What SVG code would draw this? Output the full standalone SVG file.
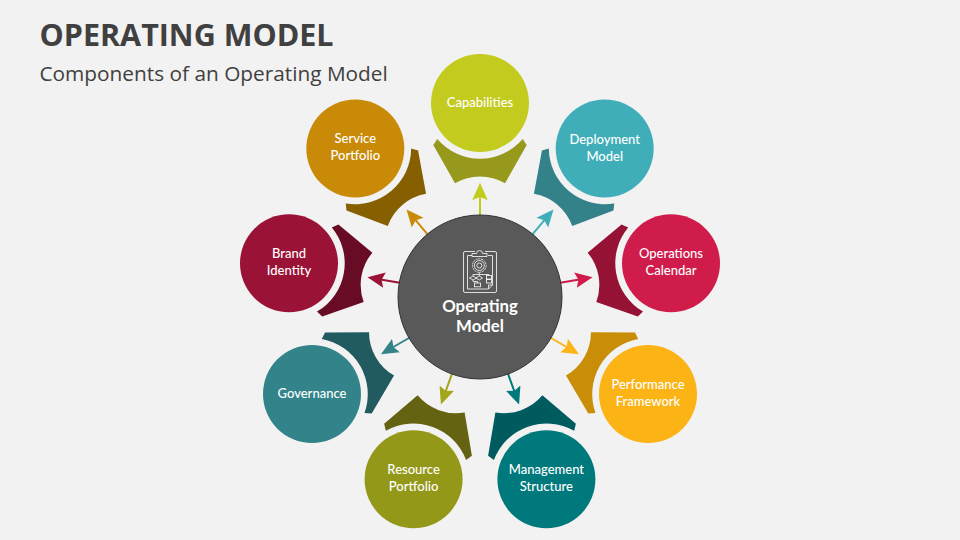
<svg xmlns="http://www.w3.org/2000/svg" width="960" height="540" viewBox="0 0 960 540">
<style>
.title{font-family:"Open Sans","Liberation Sans",sans-serif;font-weight:700;font-size:31px;fill:#404040}
.sub{font-family:"Open Sans","Liberation Sans",sans-serif;font-size:20.8px;fill:#404040}
.lbl{font-family:Lato,"Liberation Sans",sans-serif;font-size:13px;font-weight:500;fill:#fff;text-anchor:middle}
.ctr{font-family:Lato,"Liberation Sans",sans-serif;font-size:16.8px;font-weight:700;fill:#fff;text-anchor:middle}
.ar{stroke-width:2;fill:none}
.ic{fill:none;stroke:#fff;stroke-width:.8}
</style>
<defs>
<path id="seg" d="M433.3 145L437.3 139A56 56 0 0 0 522.7 139L526.7 145L505 183.3A50 50 0 0 0 455 183.3Z"/>
<marker id="m0" markerUnits="userSpaceOnUse" markerWidth="20" markerHeight="18" viewBox="0 -9 20 18" refX="13" refY="0" orient="auto"><path d="M0-7.7L17.3 0L0 7.7L3 0Z" fill="#C4CB1F"/></marker>
<marker id="m1" markerUnits="userSpaceOnUse" markerWidth="20" markerHeight="18" viewBox="0 -9 20 18" refX="13" refY="0" orient="auto"><path d="M0-7.7L17.3 0L0 7.7L3 0Z" fill="#40AEB8"/></marker>
<marker id="m2" markerUnits="userSpaceOnUse" markerWidth="20" markerHeight="18" viewBox="0 -9 20 18" refX="13" refY="0" orient="auto"><path d="M0-7.7L17.3 0L0 7.7L3 0Z" fill="#CF1C4B"/></marker>
<marker id="m3" markerUnits="userSpaceOnUse" markerWidth="20" markerHeight="18" viewBox="0 -9 20 18" refX="13" refY="0" orient="auto"><path d="M0-7.7L17.3 0L0 7.7L3 0Z" fill="#FBB316"/></marker>
<marker id="m4" markerUnits="userSpaceOnUse" markerWidth="20" markerHeight="18" viewBox="0 -9 20 18" refX="13" refY="0" orient="auto"><path d="M0-7.7L17.3 0L0 7.7L3 0Z" fill="#00797C"/></marker>
<marker id="m5" markerUnits="userSpaceOnUse" markerWidth="20" markerHeight="18" viewBox="0 -9 20 18" refX="13" refY="0" orient="auto"><path d="M0-7.7L17.3 0L0 7.7L3 0Z" fill="#A3A51A"/></marker>
<marker id="m6" markerUnits="userSpaceOnUse" markerWidth="20" markerHeight="18" viewBox="0 -9 20 18" refX="13" refY="0" orient="auto"><path d="M0-7.7L17.3 0L0 7.7L3 0Z" fill="#33838A"/></marker>
<marker id="m7" markerUnits="userSpaceOnUse" markerWidth="20" markerHeight="18" viewBox="0 -9 20 18" refX="13" refY="0" orient="auto"><path d="M0-7.7L17.3 0L0 7.7L3 0Z" fill="#9A1236"/></marker>
<marker id="m8" markerUnits="userSpaceOnUse" markerWidth="20" markerHeight="18" viewBox="0 -9 20 18" refX="13" refY="0" orient="auto"><path d="M0-7.7L17.3 0L0 7.7L3 0Z" fill="#C98A07"/></marker>
</defs>
<rect width="960" height="540" fill="#F2F2F2"/>
<text class="title" x="39.500" y="45.500" textLength="294" lengthAdjust="spacingAndGlyphs">OPERATING MODEL</text>
<text class="sub" x="39.500" y="80.700">Components of an Operating Model</text>
<g id="connectors">
<line class="ar" x1="480" y1="217" x2="480" y2="187" stroke="#C4CB1F" marker-end="url(#m0)"/>
<line class="ar" x1="531.4" y1="235.7" x2="550.7" y2="212.7" stroke="#40AEB8" marker-end="url(#m1)"/>
<line class="ar" x1="558.8" y1="283.1" x2="588.3" y2="277.9" stroke="#CF1C4B" marker-end="url(#m2)"/>
<line class="ar" x1="549.3" y1="337" x2="575.3" y2="352" stroke="#FBB316" marker-end="url(#m3)"/>
<line class="ar" x1="507.4" y1="372.2" x2="517.6" y2="400.4" stroke="#00797C" marker-end="url(#m4)"/>
<line class="ar" x1="452.6" y1="372.2" x2="442.4" y2="400.4" stroke="#A3A51A" marker-end="url(#m5)"/>
<line class="ar" x1="410.7" y1="337" x2="384.7" y2="352" stroke="#33838A" marker-end="url(#m6)"/>
<line class="ar" x1="401.2" y1="283.1" x2="371.7" y2="277.9" stroke="#9A1236" marker-end="url(#m7)"/>
<line class="ar" x1="428.6" y1="235.7" x2="409.3" y2="212.7" stroke="#C98A07" marker-end="url(#m8)"/>
</g>
<g id="node-capabilities">
<use href="#seg" fill="#96991B"/>
<circle cx="480" cy="103" r="49" fill="#C4CB1F"/>
<text class="lbl" x="480" y="107">Capabilities</text>
</g>
<g id="node-deployment-model">
<use href="#seg" transform="rotate(40 480 297)" fill="#338189"/>
<circle cx="604.7" cy="148.4" r="49" fill="#40AEB8"/>
<text class="lbl" x="604.7" y="143.500">Deployment</text>
<text class="lbl" x="604.7" y="160.500">Model</text>
</g>
<g id="node-operations-calendar">
<use href="#seg" transform="rotate(80 480 297)" fill="#961234"/>
<circle cx="671" cy="263.3" r="49" fill="#CF1C4B"/>
<text class="lbl" x="671" y="258">Operations</text>
<text class="lbl" x="671" y="275">Calendar</text>
</g>
<g id="node-performance-framework">
<use href="#seg" transform="rotate(120 480 297)" fill="#C98D08"/>
<circle cx="648" cy="394" r="49" fill="#FBB316"/>
<text class="lbl" x="648" y="389">Performance</text>
<text class="lbl" x="648" y="406">Framework</text>
</g>
<g id="node-management-structure">
<use href="#seg" transform="rotate(160 480 297)" fill="#005B5E"/>
<circle cx="546.4" cy="479.3" r="49" fill="#00797C"/>
<text class="lbl" x="546.4" y="474">Management</text>
<text class="lbl" x="546.4" y="491">Structure</text>
</g>
<g id="node-resource-portfolio">
<use href="#seg" transform="rotate(200 480 297)" fill="#636312"/>
<circle cx="413.6" cy="479.3" r="49" fill="#949819"/>
<text class="lbl" x="413.6" y="474">Resource</text>
<text class="lbl" x="413.6" y="491">Portfolio</text>
</g>
<g id="node-governance">
<use href="#seg" transform="rotate(240 480 297)" fill="#215A5F"/>
<circle cx="312" cy="394" r="49" fill="#33838A"/>
<text class="lbl" x="312" y="398">Governance</text>
</g>
<g id="node-brand-identity">
<use href="#seg" transform="rotate(280 480 297)" fill="#680C26"/>
<circle cx="289" cy="263.3" r="49" fill="#9A1236"/>
<text class="lbl" x="289" y="258">Brand</text>
<text class="lbl" x="289" y="275">Identity</text>
</g>
<g id="node-service-portfolio">
<use href="#seg" transform="rotate(320 480 297)" fill="#866000"/>
<circle cx="355.3" cy="148.4" r="49" fill="#C98A07"/>
<text class="lbl" x="355.3" y="143">Service</text>
<text class="lbl" x="355.3" y="160">Portfolio</text>
</g>
<g id="node-operating-model">
<circle cx="480" cy="297" r="82" fill="#595959" stroke="#333" stroke-width="1"/>
<g class="ic">
<path d="M475 251.500H465a1.500 1.500 0 0 0-1.500 1.500V291a1.500 1.500 0 0 0 1.500 1.500H495a1.500 1.500 0 0 0 1.500-1.500V253a1.500 1.500 0 0 0-1.500-1.500H485"/>
<path d="M472 255.500H467.500V289H488.500L492.500 285V255.500H488"/>
<path d="M488.500 289V285H492.500"/>
<path d="M472 256.500V253.500H476.500A3 3 0 0 1 482.500 253.500H487V256.500H472Z"/>
<circle cx="479.300" cy="265.500" r="6.800" stroke-dasharray="2 .8"/>
<circle cx="479.300" cy="265.500" r="5"/>
<circle cx="479.300" cy="265.500" r="2.500"/>
<path d="M479.300 272.300V274.500H473V276M479.300 274.500H489V275.500M479.300 274.500V276"/>
<path d="M469.500 278L473 276L476.500 278L473 280Z"/>
<path d="M476 278L479.300 276L482.500 278L479.300 280Z"/>
<rect x="486.500" y="275.500" width="5" height="3.500"/>
<rect x="486.500" y="279.500" width="5" height="3.500"/>
<rect x="474.500" y="283" width="6" height="3.800"/>
<path d="M473 280V281.500H477.500V283"/>
</g>
<text class="ctr" x="480" y="311.500">Operating</text>
<text class="ctr" x="480" y="332">Model</text>
</g>
</svg>
